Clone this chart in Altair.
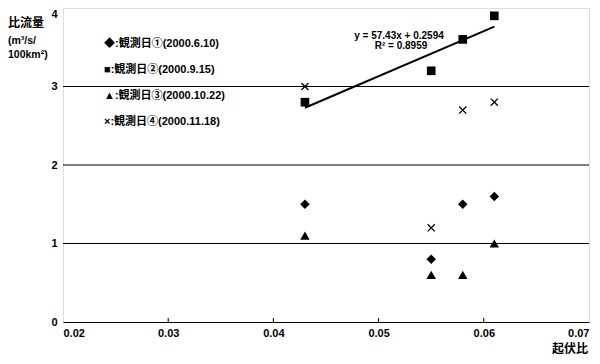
import altair as alt
import pandas as pd

# ---- data ----
relief_ratio = [0.043, 0.055, 0.058, 0.061]
obs1 = [1.5, 0.8, 1.5, 1.6]   # 2000.6.10
obs2 = [2.8, 3.2, 3.6, 3.9]   # 2000.9.15
obs3 = [1.1, 0.6, 0.6, 1.0]   # 2000.10.22
obs4 = [3.0, 1.2, 2.7, 2.8]   # 2000.11.18
x_ticks = [0.02, 0.03, 0.04, 0.05, 0.06, 0.07]
y_ticks = [0, 1, 2, 3, 4]
grid_vals = [1, 2, 3]
legend_labels = [
    "◆:観測日①(2000.6.10)",
    "■:観測日②(2000.9.15)",
    "▲:観測日③(2000.10.22)",
    "×:観測日④(2000.11.18)",
]
eq_lines = ["y = 57.43x + 0.2594", "R² = 0.8959"]

W, H = 526, 314
FONT = "Liberation Sans Narrow, Liberation Sans, Noto Sans CJK JP"
JFONT = "Liberation Sans Narrow, Liberation Sans, Noto Sans CJK JP"

xs = alt.Scale(domain=[0.02, 0.07], nice=False, zero=False)
ys = alt.Scale(domain=[0, 4], nice=False)

xaxis = alt.Axis(
    values=x_ticks, format=".2f", title=None, ticks=False, grid=False,
    domain=True, domainColor="black", labelFont=FONT, labelFontWeight="bold",
    labelFontSize=11, labelColor="black", labelPadding=5)
yaxis = alt.Axis(
    values=y_ticks, format="d", title=None, ticks=False, grid=False,
    domain=False, labelFont=FONT, labelFontWeight="bold", labelFontSize=11,
    labelColor="black", labelPadding=6,
    labelBaseline={"condition": {"test": "datum.value == 4", "value": "top"},
                   "value": "middle"})


def df(vals):
    return pd.DataFrame({"x": relief_ratio, "y": vals})


def X(f="x"):
    return alt.X(f"{f}:Q", scale=xs, axis=xaxis)


def Y(f="y"):
    return alt.Y(f"{f}:Q", scale=ys, axis=yaxis)


p1 = alt.Chart(df(obs1)).mark_point(shape="diamond", filled=True, color="black",
                                    size=90, opacity=1).encode(x=X(), y=Y())
p2 = alt.Chart(df(obs2)).mark_point(shape="square", filled=True, color="black",
                                    size=75, opacity=1).encode(x=X(), y=Y())
p3 = alt.Chart(df(obs3)).mark_point(shape="triangle-up", filled=True, color="black",
                                    size=90, opacity=1).encode(x=X(), y=Y())
p4 = alt.Chart(df(obs4)).mark_point(shape="M-1,-1L1,1M1,-1L-1,1", filled=False,
                                    color="black", size=50, strokeWidth=1.3,
                                    opacity=1).encode(x=X(), y=Y())

grid = alt.Chart(pd.DataFrame({"y": grid_vals})).mark_rule(
    color="black", strokeWidth=1.2).encode(y=Y())

ticks = alt.Chart(pd.DataFrame({"x": x_ticks[1:-1]})).mark_rule(
    color="black", strokeWidth=1).encode(
    x=X(), y=alt.value(H), y2=alt.value(H - 4))

trend = alt.Chart(df(obs2)).transform_regression(
    "x", "y", extent=[0.043, 0.061]).mark_line(
    color="black", strokeWidth=2).encode(x=X(), y=Y())


def label(text, x, y, size, font=FONT, align="left"):
    return alt.Chart(pd.DataFrame({"t": [text]})).mark_text(
        align=align, baseline="middle", font=font, fontWeight="bold",
        fontSize=size, color="black").encode(
        x=alt.value(x), y=alt.value(y), text="t:N")


legend_layers = [label(t, 41, 36 + 26 * i, 11, JFONT) for i, t in enumerate(legend_labels)]
eq_layers = [label(eq_lines[0], 336, 28, 10, align="center"),
             label(eq_lines[1], 338, 38, 10, align="center")]
title_layers = [
    label("比流量", -55, 15, 12, "Noto Sans CJK JP"),
    label("(m³/s/", -55, 33, 10.5),
    label("100km²)", -55, 47, 10.5),
    label("起伏比", 507, 341, 12, "Noto Sans CJK JP", align="center"),
]

chart = alt.layer(grid, ticks, trend, p1, p2, p3, p4,
                  *legend_layers, *eq_layers, *title_layers).properties(
    width=W, height=H,
    autosize=alt.AutoSizeParams(type="none"),
    padding={"left": 55, "top": 0, "right": 3, "bottom": 34},
).configure_view(stroke="black", strokeWidth=1.2).configure(background="white")

chart.save("out.html", embed_options={"renderer": "svg", "actions": False})
